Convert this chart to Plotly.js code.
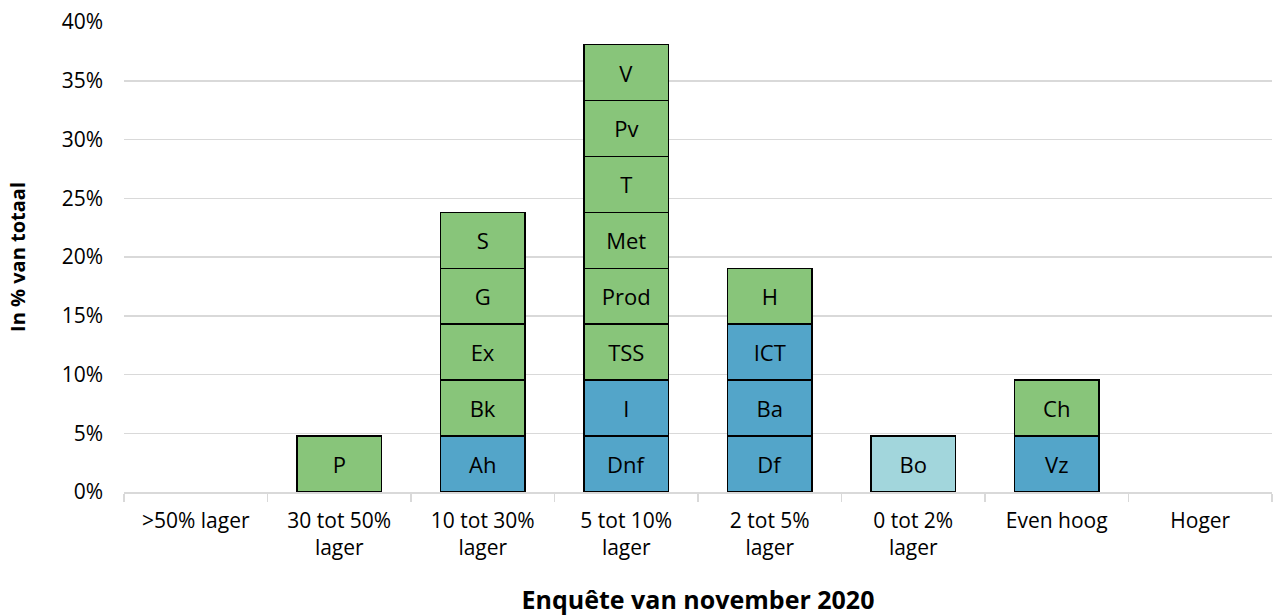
<!DOCTYPE html>
<html>
<head>
<meta charset="utf-8">
<script src="https://cdn.plot.ly/plotly-3.0.1.min.js"></script>
<style>html,body{margin:0;padding:0;background:#fff;}#chart{width:1276px;height:616px;}</style>
</head>
<body>
<div id="chart"></div>
<script>
// Categories (x axis)
const categories = [">50% lager", "30 tot 50%<br>lager", "10 tot 30%<br>lager", "5 tot 10%<br>lager",
  "2 tot 5%<br>lager", "0 tot 2%<br>lager", "Even hoog", "Hoger"];

// Segment labels per category, bottom to top
const segmentLabels = [
  [],
  ["P"],
  ["Ah", "Bk", "Ex", "G", "S"],
  ["Dnf", "I", "TSS", "Prod", "Met", "T", "Pv", "V"],
  ["Df", "Ba", "ICT", "H"],
  ["Bo"],
  ["Vz", "Ch"],
  []
];
// Segment group per category, bottom to top (g = green, b = blue, lb = light blue)
const segmentGroups = [
  [],
  ["g"],
  ["b", "g", "g", "g", "g"],
  ["b", "b", "g", "g", "g", "g", "g", "g"],
  ["b", "b", "b", "g"],
  ["lb"],
  ["b", "g"],
  []
];
// Share of each segment (% of total, one of 21 sectors)
const segmentValue = 4.76;

const groupColors = { g: "#88c57a", b: "#53a5c9", lb: "#a2d6dc" };

const maxLevels = Math.max(...segmentLabels.map(s => s.length));
const traces = [];
for (let lvl = 0; lvl < maxLevels; lvl++) {
  const y = [], text = [], colors = [];
  categories.forEach((c, i) => {
    if (lvl < segmentLabels[i].length) {
      y.push(segmentValue);
      text.push(segmentLabels[i][lvl]);
      colors.push(groupColors[segmentGroups[i][lvl]]);
    } else {
      y.push(null);
      text.push("");
      colors.push("rgba(0,0,0,0)");
    }
  });
  traces.push({
    type: "bar",
    x: categories,
    y: y,
    text: text,
    textposition: "inside",
    insidetextanchor: "middle",
    textangle: 0,
    constraintext: "none",
    textfont: { family: "Open Sans, sans-serif", size: 22, color: "#000" },
    marker: { color: colors, line: { color: "#000", width: 1.5 } },
    hoverinfo: "skip",
    showlegend: false
  });
}

const layout = {
  width: 1276,
  height: 616,
  margin: { l: 124, r: 4, t: 22, b: 124 },
  barmode: "stack",
  bargap: 0.41,
  paper_bgcolor: "#fff",
  plot_bgcolor: "#fff",
  font: { family: "Open Sans, sans-serif", color: "#000" },
  xaxis: {
    type: "category",
    showgrid: false,
    showline: true,
    linecolor: "#d9d9d9",
    linewidth: 1.5,
    ticks: "outside",
    tickson: "boundaries",
    ticklen: 8,
    tickcolor: "#d9d9d9",
    tickwidth: 1.5,
    ticklabelstandoff: 9,
    tickfont: { size: 21, color: "#000" },
    title: { text: "<b>Enquête van november 2020</b>", font: { size: 25, color: "#000" }, standoff: 32 }
  },
  yaxis: {
    range: [0, 40],
    dtick: 5,
    ticksuffix: "%",
    showgrid: true,
    gridcolor: "#d9d9d9",
    gridwidth: 1.5,
    zeroline: false,
    ticks: "",
    ticklabelstandoff: 20,
    tickfont: { size: 21, color: "#000" },
    title: { text: "<b>In % van totaal</b>", font: { size: 20, color: "#000" }, standoff: 30 }
  }
};

Plotly.newPlot("chart", traces, layout, { displayModeBar: false, staticPlot: true });
</script>
</body>
</html>
